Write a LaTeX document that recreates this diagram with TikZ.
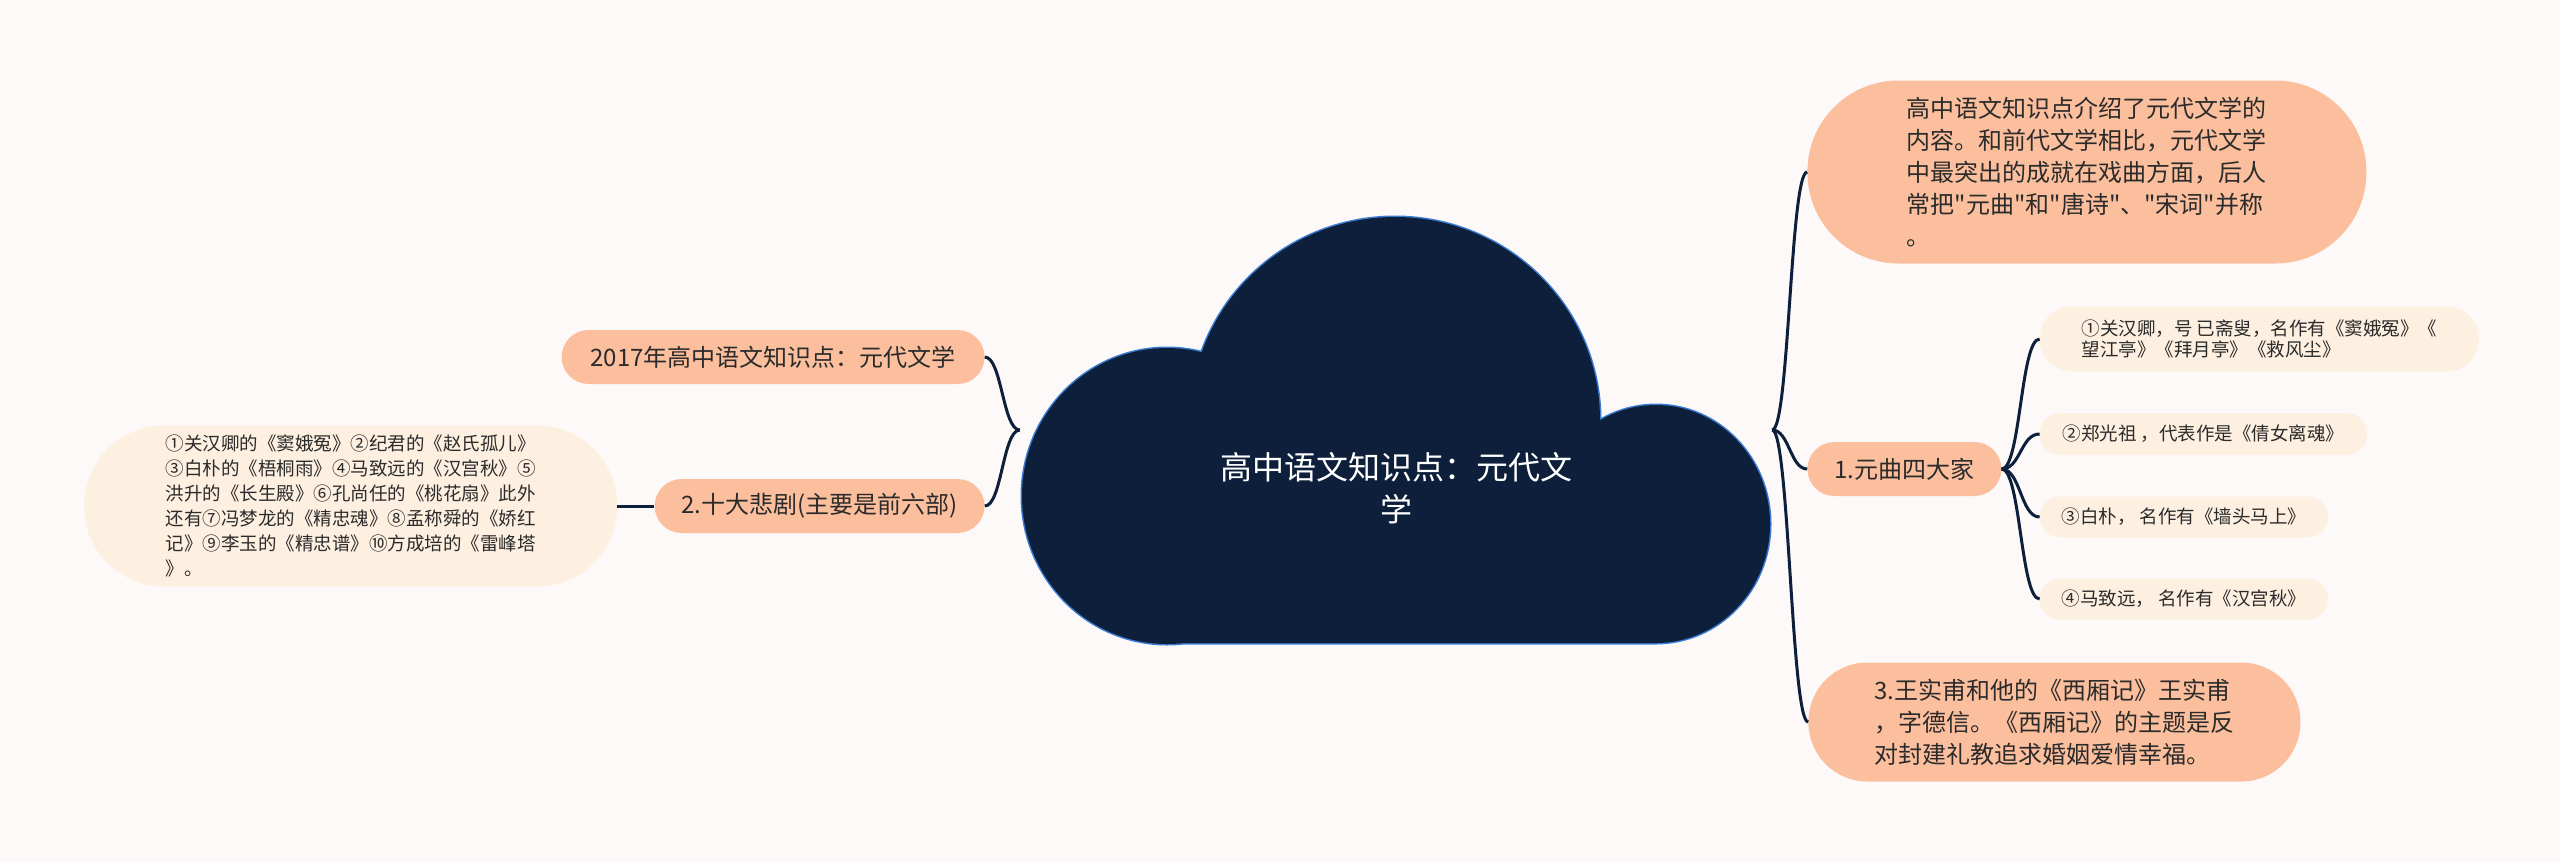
\documentclass[tikz,border=0pt]{standalone}
\usepackage{fontspec}
\setmainfont{Noto Sans CJK SC}
\newfontfamily\cjk{Noto Sans CJK SC}
\usetikzlibrary{positioning}
\definecolor{bgpink}{HTML}{FCF9F8}
\definecolor{peach}{HTML}{FCBF9E}
\definecolor{cream}{HTML}{FDF0E1}
\definecolor{navy}{HTML}{0D1F3A}
\definecolor{cloudedge}{HTML}{3B7BD4}
\definecolor{inkgray}{HTML}{2B2B2B}
\tikzset{
	pill/.style={
		rectangle,
		rounded corners=#1,
		inner sep=0pt,
		align=left,
		text=inkgray
	}
}

\begin{document}
\begin{tikzpicture}[x=1pt, y=-1pt]
		\tikzstyle{topic}=[pill=27pt, fill = peach, minimum height=54pt, font=\cjk\fontsize{24}{32}\selectfont]
		\tikzstyle{leaf}=[pill=20pt, fill = cream, minimum height=41pt, font=\cjk\fontsize{18.5}{21}\selectfont]
		\tikzstyle{connect}=[line width=3pt, draw=navy, out=0, in=180, distance=17pt]
		\path[use as bounding box, fill = bgpink] (0,0) rectangle (2560,863);
		
		\draw[cloudedge, line width=3pt] (1167,496) ellipse [x radius=145pt, y radius=148pt] (1395,420) ellipse [x radius=205pt, y radius=203pt] (1656,524) ellipse [x radius=114pt, y radius=119pt] (1167,496) rectangle (1656,643);
		\fill[navy] (1167,496) ellipse [x radius=145pt, y radius=148pt] (1395,420) ellipse [x radius=205pt, y radius=203pt] (1656,524) ellipse [x radius=114pt, y radius=119pt] (1167,496) rectangle (1656,643);
		\node (cloud) [minimum width=752pt, minimum height=426pt, inner sep=0pt] at (1396,430) {};
		\node (root) [text=white, align=center, font=\cjk\fontsize{32}{42}\selectfont] at (1396,488) {高中语文知识点：元代文\\学};
		
		\node[topic] (yuan) [minimum width=423pt, left=35pt of cloud.west, yshift=73pt] {2017年高中语文知识点：元代文学};
		\node[topic] (tragedy) [minimum width=330pt, left=35pt of cloud.west, yshift=-76pt] {2.十大悲剧(主要是前六部)};
		\node[leaf] (ten) [minimum width=533pt, minimum height=161pt, rounded corners=80pt, font=\cjk\fontsize{18.5}{25}\selectfont, left=37pt of tragedy] {①关汉卿的《窦娥冤》②纪君的《赵氏孤儿》\\③白朴的《梧桐雨》④马致远的《汉宫秋》⑤\\洪升的《长生殿》⑥孔尚任的《桃花扇》此外\\还有⑦冯梦龙的《精忠魂》⑧孟称舜的《娇红\\记》⑨李玉的《精忠谱》⑩方成培的《雷峰塔\\》。};
		
		\node[topic] (intro) [minimum width=559pt, minimum height=183pt, rounded corners=91pt, right=35pt of cloud.east, yshift=258pt] {高中语文知识点介绍了元代文学的\\内容。和前代文学相比，元代文学\\中最突出的成就在戏曲方面，后人\\常把"元曲"和"唐诗"、"宋词"并称\\。};
		\node[topic] (four) [minimum width=194pt, right=35pt of cloud.east, yshift=-39pt] {1.元曲四大家};
		\node[topic] (wang) [minimum width=492pt, minimum height=119pt, rounded corners=59pt, right=36pt of cloud.east, yshift=-292pt] {3.王实甫和他的《西厢记》王实甫\\，字德信。《西厢记》的主题是反\\对封建礼教追求婚姻爱情幸福。};
		
		\node[leaf] (guan) [minimum width=439pt, minimum height=65pt, rounded corners=32pt, right=38pt of four, yshift=130pt] {①关汉卿，号 已斋叟，名作有《窦娥冤》《\\望江亭》《拜月亭》《救风尘》};
		\node[leaf] (zheng) [minimum width=327pt, minimum height=42pt, right=38pt of four, yshift=35pt] {②郑光祖 ，代表作是《倩女离魂》};
		\node[leaf] (bai) [minimum width=288pt, right=38pt of four, yshift=-48pt] {③白朴， 名作有《墙头马上》};
		\node[leaf] (ma) [minimum width=288pt, right=38pt of four, yshift=-130pt] {④马致远， 名作有《汉宫秋》};
		
		\path
		(cloud.west) edge [connect, out=180, in=0] (yuan.east)
		(cloud.west) edge [connect, out=180, in=0] (tragedy.east)
		(tragedy.west) edge [connect, out=180, in=0] (ten.east)
		(cloud.east) edge [connect] (intro.west)
		(cloud.east) edge [connect] (four.west)
		(cloud.east) edge [connect] (wang.west)
		(four.east) edge [connect, distance=19pt] (guan.west)
		(four.east) edge [connect, distance=19pt] (zheng.west)
		(four.east) edge [connect, distance=19pt] (bai.west)
		(four.east) edge [connect, distance=19pt] (ma.west)
		;
\end{tikzpicture}
\end{document}
